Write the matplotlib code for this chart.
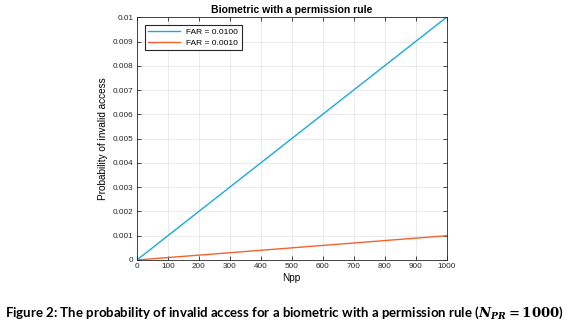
import numpy as np
from matplotlib import pyplot as plt

npp = [0, 100, 200, 300, 400, 500, 600, 700, 800, 900, 1000]
p_far_0100 = [0, 0.001, 0.002, 0.003, 0.004, 0.005, 0.006, 0.007, 0.008, 0.009, 0.010]
p_far_0010 = [0, 0.0001, 0.0002, 0.0003, 0.0004, 0.0005, 0.0006, 0.0007, 0.0008, 0.0009, 0.0010]
x_ticks = [0, 100, 200, 300, 400, 500, 600, 700, 800, 900, 1000]
y_ticks = [0, 0.001, 0.002, 0.003, 0.004, 0.005, 0.006, 0.007, 0.008, 0.009, 0.01]
y_tick_labels = ['0', '0.001', '0.002', '0.003', '0.004', '0.005', '0.006',
                 '0.007', '0.008', '0.009', '0.01']

plt.rcParams['font.family'] = ['Liberation Sans', 'DejaVu Sans']
plt.rcParams['mathtext.fontset'] = 'custom'
plt.rcParams['mathtext.rm'] = 'DejaVu Serif:bold'
plt.rcParams['mathtext.it'] = 'DejaVu Serif:italic:bold'
plt.rcParams['mathtext.bf'] = 'DejaVu Serif:bold'

fig = plt.figure(figsize=(5.8, 3.25), dpi=100)
ax = fig.add_axes([0.236, 0.2, 0.534, 0.747])

ax.plot(npp, p_far_0100, color='#1aa9dc', lw=1.0, label='FAR = 0.0100')
ax.plot(npp, p_far_0010, color='#f5622e', lw=1.0, label='FAR = 0.0010')

ax.set_xlim(0, 1000)
ax.set_ylim(0, 0.01)
ax.set_xticks(x_ticks)
ax.set_yticks(y_ticks)
ax.set_yticklabels(y_tick_labels)
ax.tick_params(direction='in', length=3, width=0.6, labelsize=5.9, colors='#262626',
               top=True, right=True, pad=2.5)
ax.grid(True, color='#e6e6e6', lw=0.6)
for s in ax.spines.values():
    s.set_color('#262626')
    s.set_linewidth(0.6)

ax.set_title('Biometric with a permission rule', fontsize=7.5, fontweight='bold', pad=3)
ax.set_xlabel('Npp', fontsize=7.2, labelpad=2)
ax.set_ylabel('Probability of invalid access', fontsize=7.2, labelpad=3)

leg = ax.legend(loc='upper left', fontsize=6, fancybox=False, framealpha=1,
                handlelength=3.8, borderpad=0.4, labelspacing=0.3,
                bbox_to_anchor=(0.012, 0.985))
leg.get_frame().set_edgecolor('#262626')
leg.get_frame().set_linewidth(0.8)

fig.text(0.009, 0.037,
         r'Figure 2: The probability of invalid access for a biometric with a permission rule ($N_{PR} = 1000$)',
         fontsize=9.55, fontweight='bold', family=['Lato', 'DejaVu Sans'], va='center')

fig.savefig('out.png', dpi=100)
